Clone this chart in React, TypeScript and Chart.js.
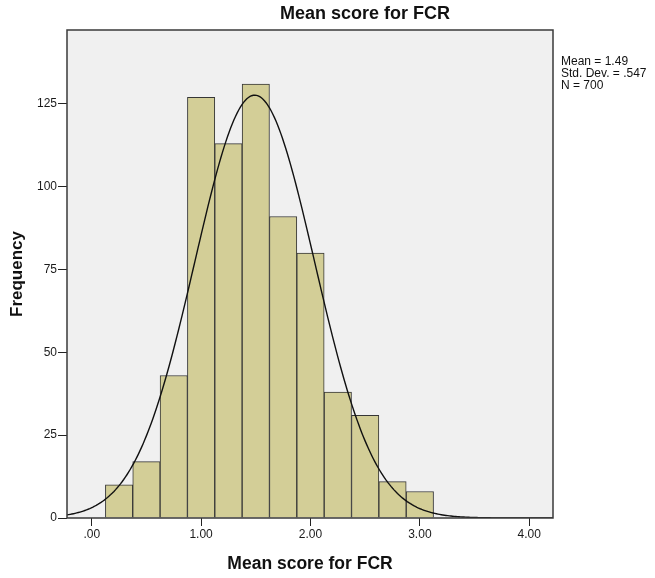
import React, { useEffect, useRef } from "react";
import { Chart, registerables } from "chart.js";

Chart.register(...registerables);

// Histogram bins (centres, width 0.25) and their frequencies
const BIN_CENTERS = [0.25, 0.5, 0.75, 1.0, 1.25, 1.5, 1.75, 2.0, 2.25, 2.5, 2.75, 3.0];
const FREQUENCIES = [10, 17, 43, 127, 113, 131, 91, 80, 38, 31, 11, 8];
const BIN_WIDTH = 0.25;

// Summary statistics shown beside the plot
const MEAN = 1.49;
const STD_DEV = 0.547;
const N = 700;
const STAT_LINES = ["Mean = 1.49", "Std. Dev. = .547", "N = 700"];

// Axis ticks and ranges
const X_TICKS = [0, 1, 2, 3, 4];
const Y_TICKS = [0, 25, 50, 75, 100, 125];
const X_MIN = -0.226;
const X_MAX = 4.217;
const Y_MAX = 147.3;

const TITLE = "Mean score for FCR";
const X_TITLE = "Mean score for FCR";
const Y_TITLE = "Frequency";

const FONT = "'Liberation Sans', Arial, sans-serif";

// Fitted normal curve scaled to counts per bin
function normalCurve(): { x: number; y: number }[] {
  const pts: { x: number; y: number }[] = [];
  const scale = (N * BIN_WIDTH) / (STD_DEV * Math.sqrt(2 * Math.PI));
  const steps = 300;
  for (let i = 0; i <= steps; i++) {
    const x = X_MIN + ((X_MAX - X_MIN) * i) / steps;
    const z = (x - MEAN) / STD_DEV;
    pts.push({ x, y: scale * Math.exp(-0.5 * z * z) });
  }
  return pts;
}

const frameText = {
  id: "frameText",
  beforeDraw(chart: any) {
    const { ctx, chartArea: a, width, height } = chart;
    ctx.save();
    ctx.fillStyle = "#ffffff";
    ctx.fillRect(0, 0, width, height);
    ctx.fillStyle = "#f0f0f0";
    ctx.fillRect(a.left, a.top, a.right - a.left, a.bottom - a.top);
    ctx.restore();
  },
  afterDraw(chart: any) {
    const { ctx, chartArea: a } = chart;
    ctx.save();
    ctx.strokeStyle = "#3a3a3a";
    ctx.lineWidth = 1.5;
    ctx.strokeRect(a.left, a.top, a.right - a.left, a.bottom - a.top);

    ctx.fillStyle = "#111111";
    ctx.font = `bold 18px ${FONT}`;
    ctx.textAlign = "center";
    ctx.textBaseline = "middle";
    ctx.fillText(TITLE, 365, 14);

    ctx.font = `12px ${FONT}`;
    ctx.textAlign = "left";
    STAT_LINES.forEach((line, i) => {
      ctx.fillText(line, 561, 62 + i * 12);
    });
    ctx.restore();
  },
};

export default function App() {
  const canvasRef = useRef<HTMLCanvasElement | null>(null);

  useEffect(() => {
    const canvas = canvasRef.current;
    if (!canvas) return;
    const chart = new Chart(canvas, {
      type: "bar",
      data: {
        datasets: [
          {
            type: "line",
            data: normalCurve(),
            borderColor: "#111111",
            borderWidth: 1.4,
            pointRadius: 0,
            tension: 0,
            fill: false,
            order: 0,
          } as any,
          {
            type: "bar",
            data: BIN_CENTERS.map((x, i) => ({ x, y: FREQUENCIES[i] })),
            backgroundColor: "#d3ce97",
            borderColor: "#363636",
            borderWidth: 1,
            barPercentage: 1,
            categoryPercentage: 1,
            grouped: false,
            order: 1,
          } as any,
        ],
      },
      options: {
        responsive: false,
        animation: false,
        devicePixelRatio: 1,
        layout: { padding: { left: 0, top: 30, right: 102, bottom: 0 } },
        plugins: {
          legend: { display: false },
          title: { display: false },
          tooltip: { enabled: false },
        },
        scales: {
          x: {
            type: "linear",
            min: X_MIN,
            max: X_MAX,
            offset: false,
            afterBuildTicks: (s: any) => {
              s.ticks = X_TICKS.map((v) => ({ value: v }));
            },
            afterFit: (s: any) => {
              s.height = 60;
            },
            ticks: {
              color: "#1a1a1a",
              font: { family: FONT, size: 12 },
              padding: 1,
              maxRotation: 0,
              autoSkip: false,
              callback: (v: any) => (v === 0 ? ".00" : Number(v).toFixed(2)),
            },
            grid: {
              display: true,
              offset: false,
              drawOnChartArea: false,
              drawTicks: true,
              tickLength: 8,
              color: "#222222",
              lineWidth: 1,
            },
            border: { display: false },
            title: {
              display: true,
              text: X_TITLE,
              color: "#111111",
              font: { family: FONT, size: 17.5, weight: "bold" },
              padding: { top: 0, bottom: 3 },
            },
          },
          y: {
            type: "linear",
            min: 0,
            max: Y_MAX,
            afterBuildTicks: (s: any) => {
              s.ticks = Y_TICKS.map((v) => ({ value: v }));
            },
            afterFit: (s: any) => {
              s.width = 67;
            },
            ticks: {
              color: "#1a1a1a",
              font: { family: FONT, size: 12 },
              padding: 1,
              autoSkip: false,
            },
            grid: {
              display: true,
              drawOnChartArea: false,
              drawTicks: true,
              tickLength: 9,
              color: "#222222",
              lineWidth: 1,
            },
            border: { display: false },
            title: {
              display: true,
              text: Y_TITLE,
              color: "#111111",
              font: { family: FONT, size: 17, weight: "bold" },
              padding: { top: 7, bottom: 0 },
            },
          },
        },
      } as any,
      plugins: [frameText],
    });
    return () => chart.destroy();
  }, []);

  return (
    <div style={{ position: "absolute", left: 0, top: 0, width: 655, height: 578 }}>
      <canvas ref={canvasRef} width={655} height={578} style={{ width: 655, height: 578 }} />
    </div>
  );
}
